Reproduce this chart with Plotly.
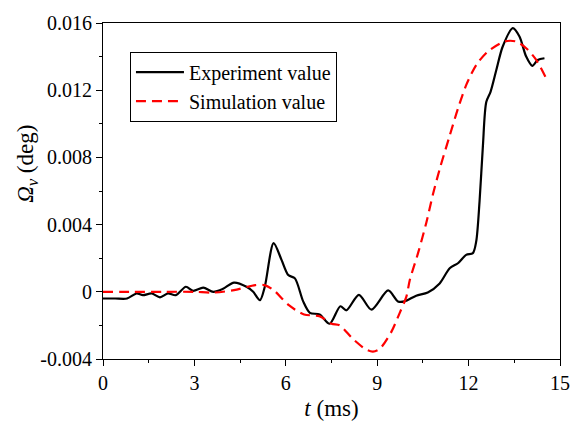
import plotly.graph_objects as go

exp_t = [0.0, 0.4, 0.79, 1.1, 1.31, 1.6, 1.87, 2.13, 2.39, 2.72, 2.96, 3.29, 3.62, 3.94, 4.3, 4.71,
         4.93, 5.15, 5.31, 5.6, 5.86, 6.08, 6.3, 6.57, 6.79, 7.11, 7.44, 7.79, 7.99, 8.4, 8.81,
         9.36, 9.68, 9.9, 10.28, 10.66, 11.05, 11.38, 11.65, 11.92, 12.14, 12.25, 12.36, 12.47,
         12.58, 12.72, 12.91, 13.12, 13.45, 13.67, 13.89, 14.09, 14.27, 14.49]
exp_v = [-0.0004, -0.0004, -0.0004, -0.0001, -0.0002, -0.0001, -0.00033, -0.0001, -0.0002, 0.0003,
         0.00006, 0.00025, 0.0, 0.00018, 0.00055, 0.0003, 0.0, -0.0005, 0.0003, 0.0029, 0.0019,
         0.001, 0.0008, -0.00057, -0.00125, -0.00135, -0.0019, -0.00086, -0.0011, -0.00018, -0.00106,
         0.00008, -0.00057, -0.00057, -0.00023, -0.00004, 0.0005, 0.0014, 0.0017, 0.0022, 0.0023,
         0.003, 0.0054, 0.0087, 0.0113, 0.0119, 0.0132, 0.0146, 0.0157, 0.0152, 0.014, 0.01345,
         0.0138, 0.0139]

sim_t = [0.0, 1.0, 2.0, 3.0, 3.6, 4.3, 5.0, 5.3, 5.6, 6.1, 6.6, 7.1, 7.5, 7.77, 8.2, 8.64, 8.86,
         9.08, 9.46, 9.74, 9.96, 10.07, 10.34, 10.61, 10.83, 11.05, 11.38, 11.65, 11.92, 12.25,
         12.63, 13.18, 13.56, 13.89, 14.22, 14.52]
sim_v = [0.0, 0.0, 0.0, 0.0, -0.00005, 0.0001, 0.0004, 0.0004, 0.0001, -0.0008, -0.00135, -0.00145,
         -0.0019, -0.002, -0.0028, -0.00344, -0.00356, -0.0034, -0.0024, -0.00125, -0.00027, 0.0007,
         0.0023, 0.0041, 0.0058, 0.0073, 0.0093, 0.0109, 0.0123, 0.0135, 0.0143, 0.0149, 0.0149,
         0.0145, 0.0138, 0.0128]

x_ticks = [0, 3, 6, 9, 12, 15]
y_ticks = [-0.004, 0, 0.004, 0.008, 0.012, 0.016]
y_ticktext = ["-0.004", "0", "0.004", "0.008", "0.012", "0.016"]

font = "Liberation Serif"

fig = go.Figure()
fig.add_trace(go.Scatter(x=exp_t, y=exp_v, mode="lines", name="Experiment value",
                         line=dict(color="black", width=2.2, shape="spline", smoothing=0.8)))
fig.add_trace(go.Scatter(x=sim_t, y=sim_v, mode="lines", name="Simulation value",
                         line=dict(color="#ff0000", width=2.2, dash="10px,6px", shape="spline", smoothing=0.8)))

axis_common = dict(showline=True, linecolor="black", linewidth=1, mirror=True, ticks="outside",
                   ticklen=6, tickwidth=1, tickcolor="black", showgrid=False, zeroline=False,
                   tickfont=dict(family=font, size=20, color="black"))

fig.update_xaxes(range=[0, 15], tickvals=x_ticks,
                 minor=dict(ticks="outside", ticklen=3, tickcolor="black", dtick=1.5, tick0=0),
                 title=dict(text="<i>t</i> (ms)", font=dict(family=font, size=23, color="black"), standoff=6),
                 **axis_common)
fig.update_yaxes(range=[-0.004, 0.016], tickvals=y_ticks, ticktext=y_ticktext,
                 minor=dict(ticks="outside", ticklen=3, tickcolor="black", dtick=0.002, tick0=0),
                 **axis_common)

fig.add_annotation(text="<i>Ω<sub>v</sub></i> (deg)", textangle=-90, xref="paper", yref="paper",
                   x=-0.165, y=0.58, xanchor="center", yanchor="middle", showarrow=False,
                   font=dict(family=font, size=23, color="black"))

fig.update_layout(
    width=583, height=428,
    margin=dict(l=103, r=23, t=19, b=68),
    plot_bgcolor="white", paper_bgcolor="white",
    legend=dict(x=0.059, y=0.915, xanchor="left", yanchor="top", bgcolor="white",
                bordercolor="black", borderwidth=1, itemwidth=48,
                font=dict(family=font, size=20, color="black"), tracegroupgap=0),
)

fig.write_html("out.html")
